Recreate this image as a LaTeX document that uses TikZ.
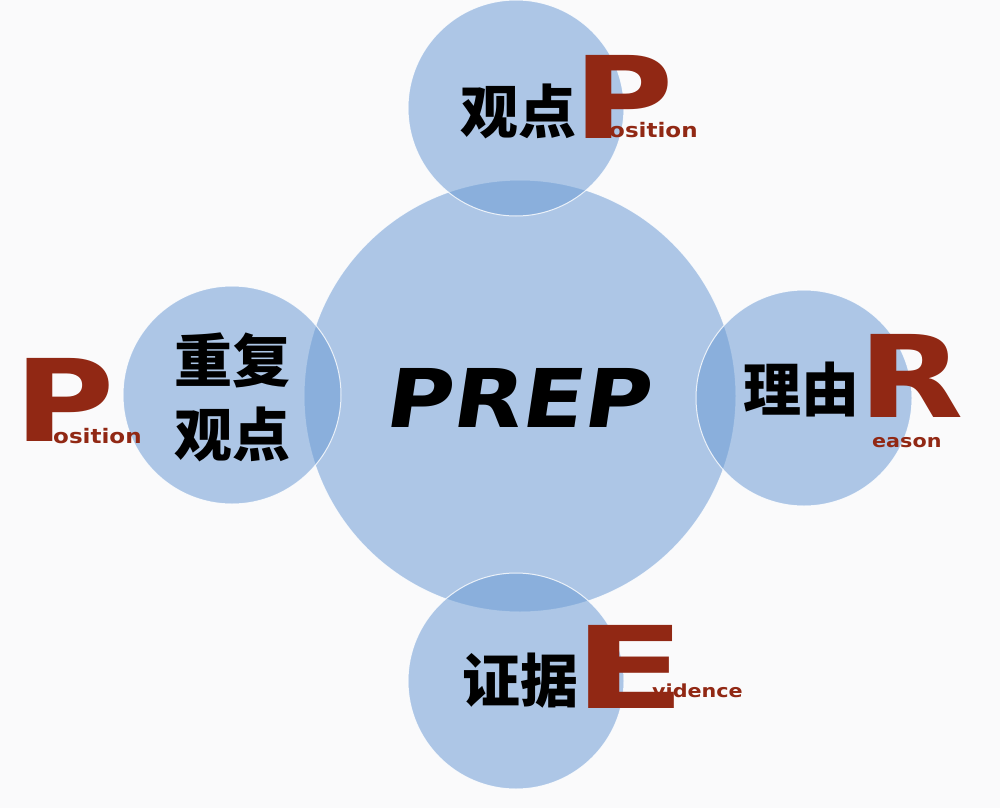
\documentclass[tikz,border=0pt]{standalone}
\usepackage{fontspec}
\usetikzlibrary{positioning}
\newfontfamily\cjkfont{Noto Sans CJK SC}
\newfontfamily\prepfont{DejaVu Sans}[FakeSlant=0.15,FakeStretch=1.12]
\newfontfamily\letterfont{DejaVu Sans}[FakeStretch=1.2]
\newfontfamily\wideletterfont{DejaVu Sans}[FakeStretch=1.45]
\newfontfamily\tailfont{DejaVu Sans}[FakeStretch=1.15]
\definecolor{bubbleblue}{RGB}{111,157,213}
\definecolor{letterred}{RGB}{145,40,20}
\definecolor{paper}{RGB}{250,250,251}
\tikzset{
  bubble/.style={circle, fill=bubbleblue, fill opacity=0.55, text opacity=1,
    draw=white, draw opacity=0.8, line width=1pt, inner sep=0pt},
  cjklabel/.style={font=\cjkfont\bfseries\fontsize{58}{74}\selectfont, align=center, inner sep=0pt},
  bigletter/.style={font=\letterfont\bfseries\fontsize{114}{114}\selectfont, text=letterred, inner sep=0pt},
  tail/.style={font=\tailfont\bfseries\fontsize{#1}{#1}\selectfont, text=letterred, inner sep=0pt, anchor=base west},
  tail/.default=20
}
\begin{document}
\begin{tikzpicture}[x=1pt, y=-1pt]
  \fill[paper] (0,0) rectangle (1000,808);
  \useasboundingbox (0,0) rectangle (1000,808);

  % Circles
  \node[bubble, minimum size=432pt, font=\prepfont\bfseries\fontsize{81}{81}\selectfont] (prep) at (520,396) {};
  \node[bubble, minimum size=216pt] (top) at (516,108) {};
  \node[bubble, minimum size=218pt] (left) at (232,395) {};
  \node[bubble, minimum size=216pt] (right) at (804,398) {};
  \node[bubble, minimum size=216pt] (bottom) at (516,681) {};
  \node[font=\prepfont\bfseries\fontsize{81}{81}\selectfont, inner sep=0pt] (preptext) at (516,398) {PREP};

  % Position (top)
  \node[cjklabel] (topcn) at (518,111) {观点};
  \node[bigletter] (topP) at (624,97) {P};
  \node[tail] (toptail) at (609,137) {osition};

  % Position (left, repeated)
  \node[cjklabel] (leftcn) at (232,397) {重复\\观点};
  \node[bigletter] (leftP) at (65,400) {P};
  \node[tail] (lefttail) at (53,443) {osition};

  % Reason
  \node[cjklabel] (rightcn) at (801,390) {理由};
  \node[bigletter] (rightR) at (911,376) {R};
  \node[tail=18] (righttail) at (872,447) {eason};

  % Evidence
  \node[cjklabel] (bottomcn) at (520,681) {证据};
  \node[bigletter, font=\wideletterfont\bfseries\fontsize{114}{114}\selectfont] (bottomE) at (630,667) {E};
  \node[tail=18] (bottomtail) at (652,697) {vidence};
\end{tikzpicture}
\end{document}
